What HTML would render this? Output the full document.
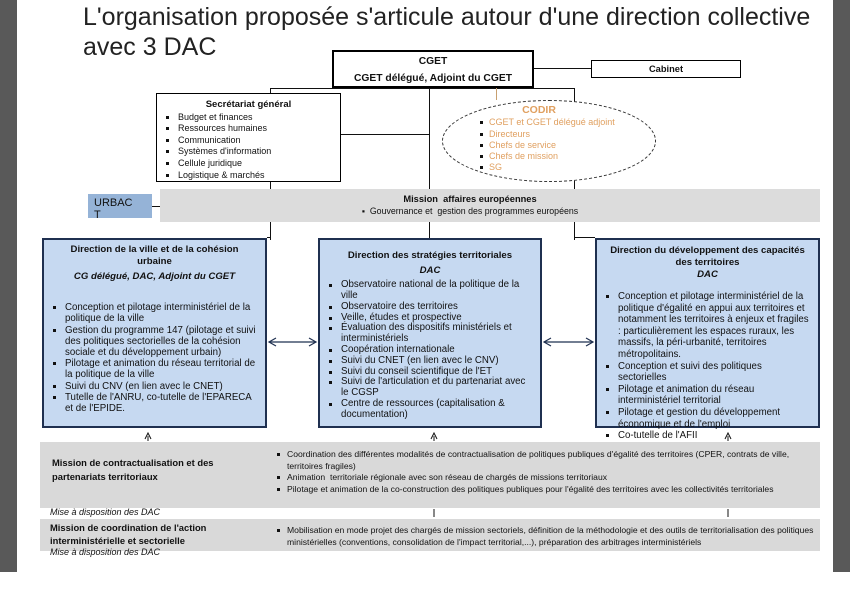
<!DOCTYPE html>
<html><head><meta charset="utf-8"><style>
*{margin:0;padding:0;box-sizing:border-box}
body{width:850px;height:612px;position:relative;background:#fff;font-family:"Liberation Sans",sans-serif;color:#111;overflow:hidden}
.a{position:absolute}
.sb{position:absolute;background:#595959}
.t{font-size:25px;color:#222;white-space:nowrap}
.box{position:absolute;border:1px solid #000;background:#fff}
.dir{position:absolute;background:#c6d9f1;border:2px solid #1f3050;font-size:9.7px;line-height:11.2px}
.dir h3{font-size:9.6px;text-align:center;font-weight:bold;line-height:12px}
.dir ul,.bl{list-style:none}
.dir li,.bl li{position:relative;padding-left:21px}
.dir li:before,.bl li:before{content:"";position:absolute;left:9px;top:4px;width:3px;height:3px;background:#111}
.band{position:absolute;background:#d9d9d9;font-size:8.6px;line-height:11.5px}
.ln{position:absolute;background:#111}
</style></head><body>
<div class="sb" style="left:0;top:0;width:17px;height:572px"></div>
<div class="sb" style="left:833px;top:0;width:17px;height:572px"></div>
<div class="a t" style="left:83px;top:3px">L'organisation proposée s'articule autour d'une direction collective</div>
<div class="a t" style="left:83px;top:33px">avec 3 DAC</div>

<div class="ln" style="left:270px;top:88px;width:305px;height:1px"></div>
<div class="ln" style="left:270px;top:88px;width:1px;height:152px"></div>
<div class="ln" style="left:574px;top:88px;width:1px;height:152px"></div>
<div class="ln" style="left:429px;top:87px;width:1px;height:153px"></div>
<div class="ln" style="left:340px;top:134px;width:90px;height:1px"></div>
<div class="ln" style="left:534px;top:68px;width:57px;height:1px"></div>
<div class="ln" style="left:496px;top:88px;width:1px;height:12px;background:#c8a070"></div>
<div class="ln" style="left:267px;top:237px;width:4px;height:1px"></div>
<div class="ln" style="left:574px;top:237px;width:21px;height:1px"></div>
<div class="ln" style="left:152px;top:206px;width:8px;height:1px"></div>

<div class="box" style="left:332px;top:50px;width:202px;height:38px;border:2px solid #000;text-align:center;font-size:10.3px;font-weight:bold;line-height:17px;padding-top:1px">CGET<br>CGET délégué, Adjoint du CGET</div>
<div class="box" style="left:591px;top:60px;width:150px;height:18px;text-align:center;font-size:9.3px;font-weight:bold;line-height:17px">Cabinet</div>

<div class="box" style="left:156px;top:93px;width:185px;height:89px;font-size:9px;line-height:11.6px;padding-top:5px;overflow:hidden">
<div style="text-align:center;font-weight:bold;font-size:9.5px;margin-bottom:1px">Secrétariat général</div>
<ul class="bl"><li>Budget et finances</li><li>Ressources humaines</li><li>Communication</li><li>Systèmes d'information</li><li>Cellule juridique</li><li>Logistique &amp; marchés</li></ul></div>

<div class="a" style="left:442px;top:100px;width:214px;height:82px;border:1px dashed #333;border-radius:50%;background:#fff;color:#e0a060;font-size:9px;line-height:11.3px">
<div style="text-align:center;font-weight:bold;font-size:10.5px;margin-top:4px;margin-bottom:1px;padding-right:20px">CODIR</div>
<ul class="bl" style="margin-left:34px"><li style="padding-left:12px">CGET et CGET délégué adjoint</li><li style="padding-left:12px">Directeurs</li><li style="padding-left:12px">Chefs de service</li><li style="padding-left:12px">Chefs de mission</li><li style="padding-left:12px">SG</li></ul></div>
<style>.a ul.bl li:before{left:3px}</style>

<div class="band" style="left:160px;top:189px;width:660px;height:33px;text-align:center;background:#dcdcdc">
<div style="font-weight:bold;padding-top:5px;padding-right:40px;font-size:9.3px">Mission&nbsp; affaires européennes</div>
<div style="padding-right:40px;font-size:8.8px">▪&nbsp; Gouvernance et&nbsp; gestion des programmes européens</div></div>
<div class="a" style="left:88px;top:194px;width:64px;height:24px;background:#95b3d7;font-size:11px;line-height:12px;padding:3px 0 0 6px">URBAC<br>T</div>

<div class="dir" style="left:42px;top:238px;width:225px;height:190px;padding:4px 6px 0 0">
<h3 style="padding-left:6px">Direction de la ville et de la cohésion<br>urbaine</h3>
<div style="text-align:center;font-style:italic;font-weight:bold;font-size:9.6px;margin-top:3px;padding-left:6px">CG délégué, DAC, Adjoint du CGET</div>
<ul style="margin-top:20px"><li>Conception et pilotage interministériel de la politique de la ville</li><li>Gestion du programme 147 (pilotage et suivi des politiques sectorielles de la cohésion sociale et du développement urbain)</li><li>Pilotage et animation du réseau territorial de la politique de la ville</li><li>Suivi du CNV (en lien avec le CNET)</li><li>Tutelle de l'ANRU, co-tutelle de l'EPARECA et de l'EPIDE.</li></ul></div>

<div class="dir" style="left:318px;top:238px;width:224px;height:190px;padding:10px 6px 0 0;overflow:visible">
<h3 style="padding-left:6px">Direction des stratégies territoriales</h3>
<div style="text-align:center;font-style:italic;font-weight:bold;font-size:9.6px;margin-top:3px;padding-left:6px">DAC</div>
<ul style="margin-top:4px;line-height:10.8px"><li>Observatoire national de la politique de la ville</li><li>Observatoire des territoires</li><li>Veille, études et prospective</li><li>Évaluation des dispositifs ministériels et interministériels</li><li>Coopération internationale</li><li>Suivi du CNET (en lien avec le CNV)</li><li>Suivi du conseil scientifique de l'ET</li><li>Suivi de l'articulation et du partenariat avec le CGSP</li><li>Centre de ressources (capitalisation &amp; documentation)</li></ul></div>

<div class="dir" style="left:595px;top:238px;width:225px;height:190px;padding:5px 6px 0 0;overflow:visible">
<h3 style="padding-left:6px">Direction du développement des capacités<br>des territoires<br><i>DAC</i></h3>
<ul style="margin-top:10px;line-height:11.6px"><li>Conception et pilotage interministériel de la politique d'égalité en appui aux territoires et notamment les territoires à enjeux et fragiles : particulièrement les espaces ruraux, les massifs, la péri-urbanité, territoires métropolitains.</li><li>Conception et suivi des politiques sectorielles</li><li>Pilotage et animation du réseau interministériel territorial</li><li>Pilotage et gestion du développement économique et de l'emploi</li><li>Co-tutelle de l'AFII</li></ul></div>

<svg class="a" style="left:0;top:0" width="850" height="612">
<g stroke="#1f3050" stroke-width="1.2" fill="none">
<line x1="269" y1="342" x2="316" y2="342"/><polyline points="276,338 269,342 276,346"/><polyline points="309,338 316,342 309,346"/>
<line x1="544" y1="342" x2="593" y2="342"/><polyline points="551,338 544,342 551,346"/><polyline points="586,338 593,342 586,346"/>
</g>
<g stroke="#111" stroke-width="1" fill="none">
<polyline points="145,439 148,433 151,439"/><line x1="148" y1="436" x2="148" y2="441"/>
<polyline points="431,439 434,433 437,439"/><line x1="434" y1="436" x2="434" y2="441"/>
<polyline points="725,439 728,433 731,439"/><line x1="728" y1="436" x2="728" y2="441"/>
<line x1="434" y1="509" x2="434" y2="517"/><line x1="728" y1="509" x2="728" y2="517"/>
</g></svg>

<div class="band" style="left:40px;top:442px;width:780px;height:66px">
<div class="a" style="left:12px;top:14px;font-weight:bold;font-size:9.4px;line-height:14px">Mission de contractualisation et des<br>partenariats territoriaux</div>
<ul class="bl a" style="left:234px;top:7px;width:540px"><li style="padding-left:13px">Coordination des différentes modalités de contractualisation de politiques publiques d'égalité des territoires (CPER, contrats de ville, territoires fragiles)</li><li style="padding-left:13px">Animation&nbsp; territoriale régionale avec son réseau de chargés de missions territoriaux</li><li style="padding-left:13px">Pilotage et animation de la co-construction des politiques publiques pour l'égalité des territoires avec les collectivités territoriales</li></ul></div>
<style>.band ul.bl li:before{left:3px}</style>
<div class="a" style="left:50px;top:507px;font-size:9px;font-style:italic">Mise à disposition des DAC</div>

<div class="band" style="left:40px;top:519px;width:780px;height:32px">
<div class="a" style="left:10px;top:2px;font-weight:bold;font-size:9.4px;line-height:13px">Mission de coordination de l'action<br>interministérielle et sectorielle</div>
<ul class="bl a" style="left:234px;top:6px;width:540px"><li style="padding-left:13px">Mobilisation en mode projet des chargés de mission sectoriels, définition de la méthodologie et des outils de territorialisation des politiques ministérielles (conventions, consolidation de l'impact territorial,...), préparation des arbitrages interministériels</li></ul></div>
<div class="a" style="left:50px;top:547px;font-size:9px;font-style:italic">Mise à disposition des DAC</div>
</body></html>
